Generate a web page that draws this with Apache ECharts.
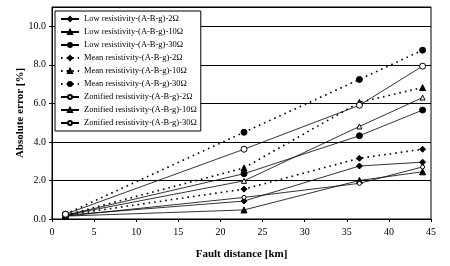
<!DOCTYPE html>
<html>
<head>
<meta charset="utf-8">
<script src="https://cdn.jsdelivr.net/npm/echarts@6/dist/echarts.min.js"></script>
<style>
  html, body { margin: 0; padding: 0; background: #fff; }
  #chart { width: 450px; height: 266px; }
</style>
</head>
<body>
<div id="chart"></div>
<script>
// fault distances [km]
const distances = [1.6, 22.8, 36.5, 44]

// absolute error [%]
const low2 = [0.2, 0.93, 2.75, 2.95]
const low10 = [0.15, 0.47, 2.0, 2.45]
const low30 = [0.2, 2.35, 4.32, 5.65]
const mean2 = [0.2, 1.55, 3.15, 3.62]
const mean10 = [0.2, 2.65, 6.05, 6.82]
const mean30 = [0.25, 4.5, 7.24, 8.76]
const zon2 = [0.15, 1.12, 1.85, 2.7]
const zon10 = [0.2, 1.98, 4.8, 6.3]
const zon30 = [0.25, 3.62, 5.9, 7.93]

const font = 'Liberation Serif'

function pairs(vals) {
  return distances.map((d, i) => [d, vals[i]])
}

function makeSeries(name, vals, symbol, size, dotted, open) {
  return {
    name: name,
    type: 'line',
    data: pairs(vals),
    symbol: symbol,
    symbolSize: size,
    showSymbol: true,
    lineStyle: {
      color: '#000',
      width: dotted ? 1.6 : 0.8,
      type: dotted ? [1.6, 4] : 'solid'
    },
    itemStyle: {
      color: open ? '#fff' : '#000',
      borderColor: '#000',
      borderWidth: 1
    },
    animation: false
  }
}

const series = [
  makeSeries('Low resistivity-(A-B-g)-2Ω', low2, 'diamond', 6, false, false),
  makeSeries('Low resistivity-(A-B-g)-10Ω', low10, 'triangle', 6, false, false),
  makeSeries('Low resistivity-(A-B-g)-30Ω', low30, 'circle', 6, false, false),
  makeSeries('Mean resistivity-(A-B-g)-2Ω', mean2, 'diamond', 6, true, false),
  makeSeries('Mean resistivity-(A-B-g)-10Ω', mean10, 'triangle', 6, true, false),
  makeSeries('Mean resistivity-(A-B-g)-30Ω', mean30, 'circle', 6, true, false),
  makeSeries('Zonified resistivity-(A-B-g)-2Ω', zon2, 'circle', 4, false, true),
  makeSeries('Zonified resistivity-(A-B-g)-10Ω', zon10, 'triangle', 5, false, true),
  makeSeries('Zonified resistivity-(A-B-g)-30Ω', zon30, 'circle', 6, false, true)
]

const chart = echarts.init(document.getElementById('chart'))
chart.setOption({
  backgroundColor: '#fff',
  textStyle: { fontFamily: font },
  grid: {
    left: 52,
    right: 19,
    top: 7,
    bottom: 47,
    show: true,
    borderColor: '#000',
    borderWidth: 1
  },
  legend: {
    orient: 'vertical',
    left: 55,
    top: 11,
    itemWidth: 18,
    itemHeight: 5,
    itemGap: 3,
    padding: [3, 4, 3, 5],
    borderColor: '#000',
    borderWidth: 1,
    backgroundColor: '#fff',
    textStyle: { fontFamily: font, fontSize: 8.5, color: '#000', lineHeight: 10 },
    data: series.map(s => s.name)
  },
  xAxis: {
    type: 'value',
    min: 0,
    max: 45,
    interval: 5,
    name: 'Fault distance [km]',
    nameLocation: 'middle',
    nameGap: 30,
    nameMoveOverlap: false,
    nameTextStyle: { fontFamily: font, fontSize: 11, fontWeight: 'bold', color: '#000' },
    axisLine: { lineStyle: { color: '#000', width: 1 } },
    axisTick: { show: true, length: 3, lineStyle: { color: '#000' } },
    axisLabel: { fontFamily: font, fontSize: 10, color: '#000', margin: 8 },
    splitLine: { show: false }
  },
  yAxis: {
    type: 'value',
    min: 0,
    max: 11,
    interval: 2,
    name: 'Absolute error [%]',
    nameLocation: 'middle',
    nameGap: 26,
    nameMoveOverlap: false,
    nameTextStyle: { fontFamily: font, fontSize: 11, fontWeight: 'bold', color: '#000' },
    axisLine: { show: true, lineStyle: { color: '#000', width: 1 } },
    axisTick: { show: true, length: 3, lineStyle: { color: '#000' } },
    axisLabel: {
      fontFamily: font,
      fontSize: 10,
      color: '#000',
      margin: 6,
      showMaxLabel: false,
      formatter: v => v.toFixed(1)
    },
    splitLine: { show: true, lineStyle: { color: '#000', width: 1 } }
  },
  series: series
})
</script>
</body>
</html>
